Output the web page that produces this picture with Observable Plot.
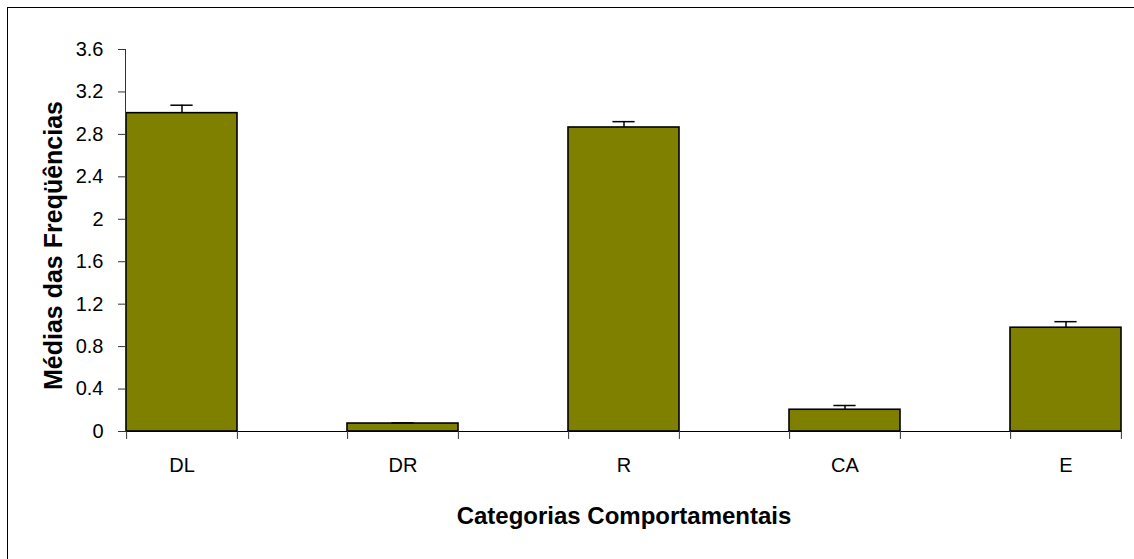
<!DOCTYPE html>
<html>
<head>
<meta charset="utf-8">
<script src="https://cdn.jsdelivr.net/npm/d3@7"></script>
<script src="https://cdn.jsdelivr.net/npm/@observablehq/plot@0.6"></script>
<style>
  html, body { margin: 0; padding: 0; background: white; }
  #wrap { position: relative; width: 1134px; height: 559px; overflow: hidden; }
  #border { position: absolute; left: 7px; top: 7px; width: 1140px; height: 570px; border: 1.5px solid #000; box-sizing: border-box; pointer-events: none; }
</style>
</head>
<body>
<div id="wrap"><div id="border"></div></div>
<script>
const categories = ["DL", "DR", "R", "CA", "E"];
const means = [3.0, 0.075, 2.865, 0.205, 0.978];
const errors = [0.075, 0.006, 0.055, 0.04, 0.057];
const yTicks = [0, 0.4, 0.8, 1.2, 1.6, 2, 2.4, 2.8, 3.2, 3.6];
const xTitle = "Categorias Comportamentais";
const yTitle = "Médias das Freqüências";

const data = categories.map((c, i) => ({cat: c, mean: means[i], top: means[i] + errors[i]}));

const W = 1134, H = 559;
const mL = 125, mR = 12, mT = 49, mB = 128;
const xOpts = {type: "band", domain: categories, paddingInner: 0.5, paddingOuter: 0, align: 0.5};
const xs = Plot.scale({x: {...xOpts, range: [mL, W - mR]}});
const bw = xs.bandwidth;
const capW = 22;
const font = "Arial, 'Liberation Sans', sans-serif";

const chart = Plot.plot({
  width: W,
  height: H,
  marginLeft: mL,
  marginRight: mR,
  marginTop: mT,
  marginBottom: mB,
  style: {fontFamily: font, color: "black", background: "transparent", overflow: "visible"},
  x: {...xOpts},
  y: {domain: [0, 3.6]},
  marks: [
    Plot.barY(data, {x: "cat", y: "mean", fill: "#808000", stroke: "black", strokeWidth: 1.6}),
    Plot.ruleX(data, {x: "cat", y1: "mean", y2: "top", stroke: "black", strokeWidth: 1.5}),
    Plot.tickY(data, {x: "cat", y: "top", stroke: "black", strokeWidth: 1.5, insetLeft: (bw - capW) / 2, insetRight: (bw - capW) / 2}),
    Plot.ruleY([0], {stroke: "black", strokeWidth: 1}),
    Plot.ruleX(categories, {x: d => d, y1: 0, y2: -0.075, dx: -bw / 2, stroke: "#333", strokeWidth: 1}),
    Plot.ruleX(categories, {x: d => d, y1: 0, y2: -0.075, dx: bw / 2, stroke: "#333", strokeWidth: 1}),
    Plot.frame({anchor: "left", stroke: "#333", strokeWidth: 1}),
    Plot.axisY({ticks: yTicks, tickSize: 7, tickPadding: 15, fontSize: 20, tickFormat: d => String(d), label: null, stroke: "#333"}),
    Plot.axisX({tickSize: 0, tickPadding: 26, fontSize: 20, label: null}),
    Plot.text([xTitle], {frameAnchor: "bottom", dy: 85, text: d => d, fontSize: 24, fontWeight: "bold", lineAnchor: "middle", fill: "black"}),
    Plot.text([yTitle], {frameAnchor: "left", dx: -72, dy: 5, rotate: -90, text: d => d, fontSize: 25, fontWeight: "bold", lineAnchor: "middle", textAnchor: "middle", fill: "black"})
  ]
});
document.getElementById("wrap").insertBefore(chart, document.getElementById("border"));
</script>
</body>
</html>
